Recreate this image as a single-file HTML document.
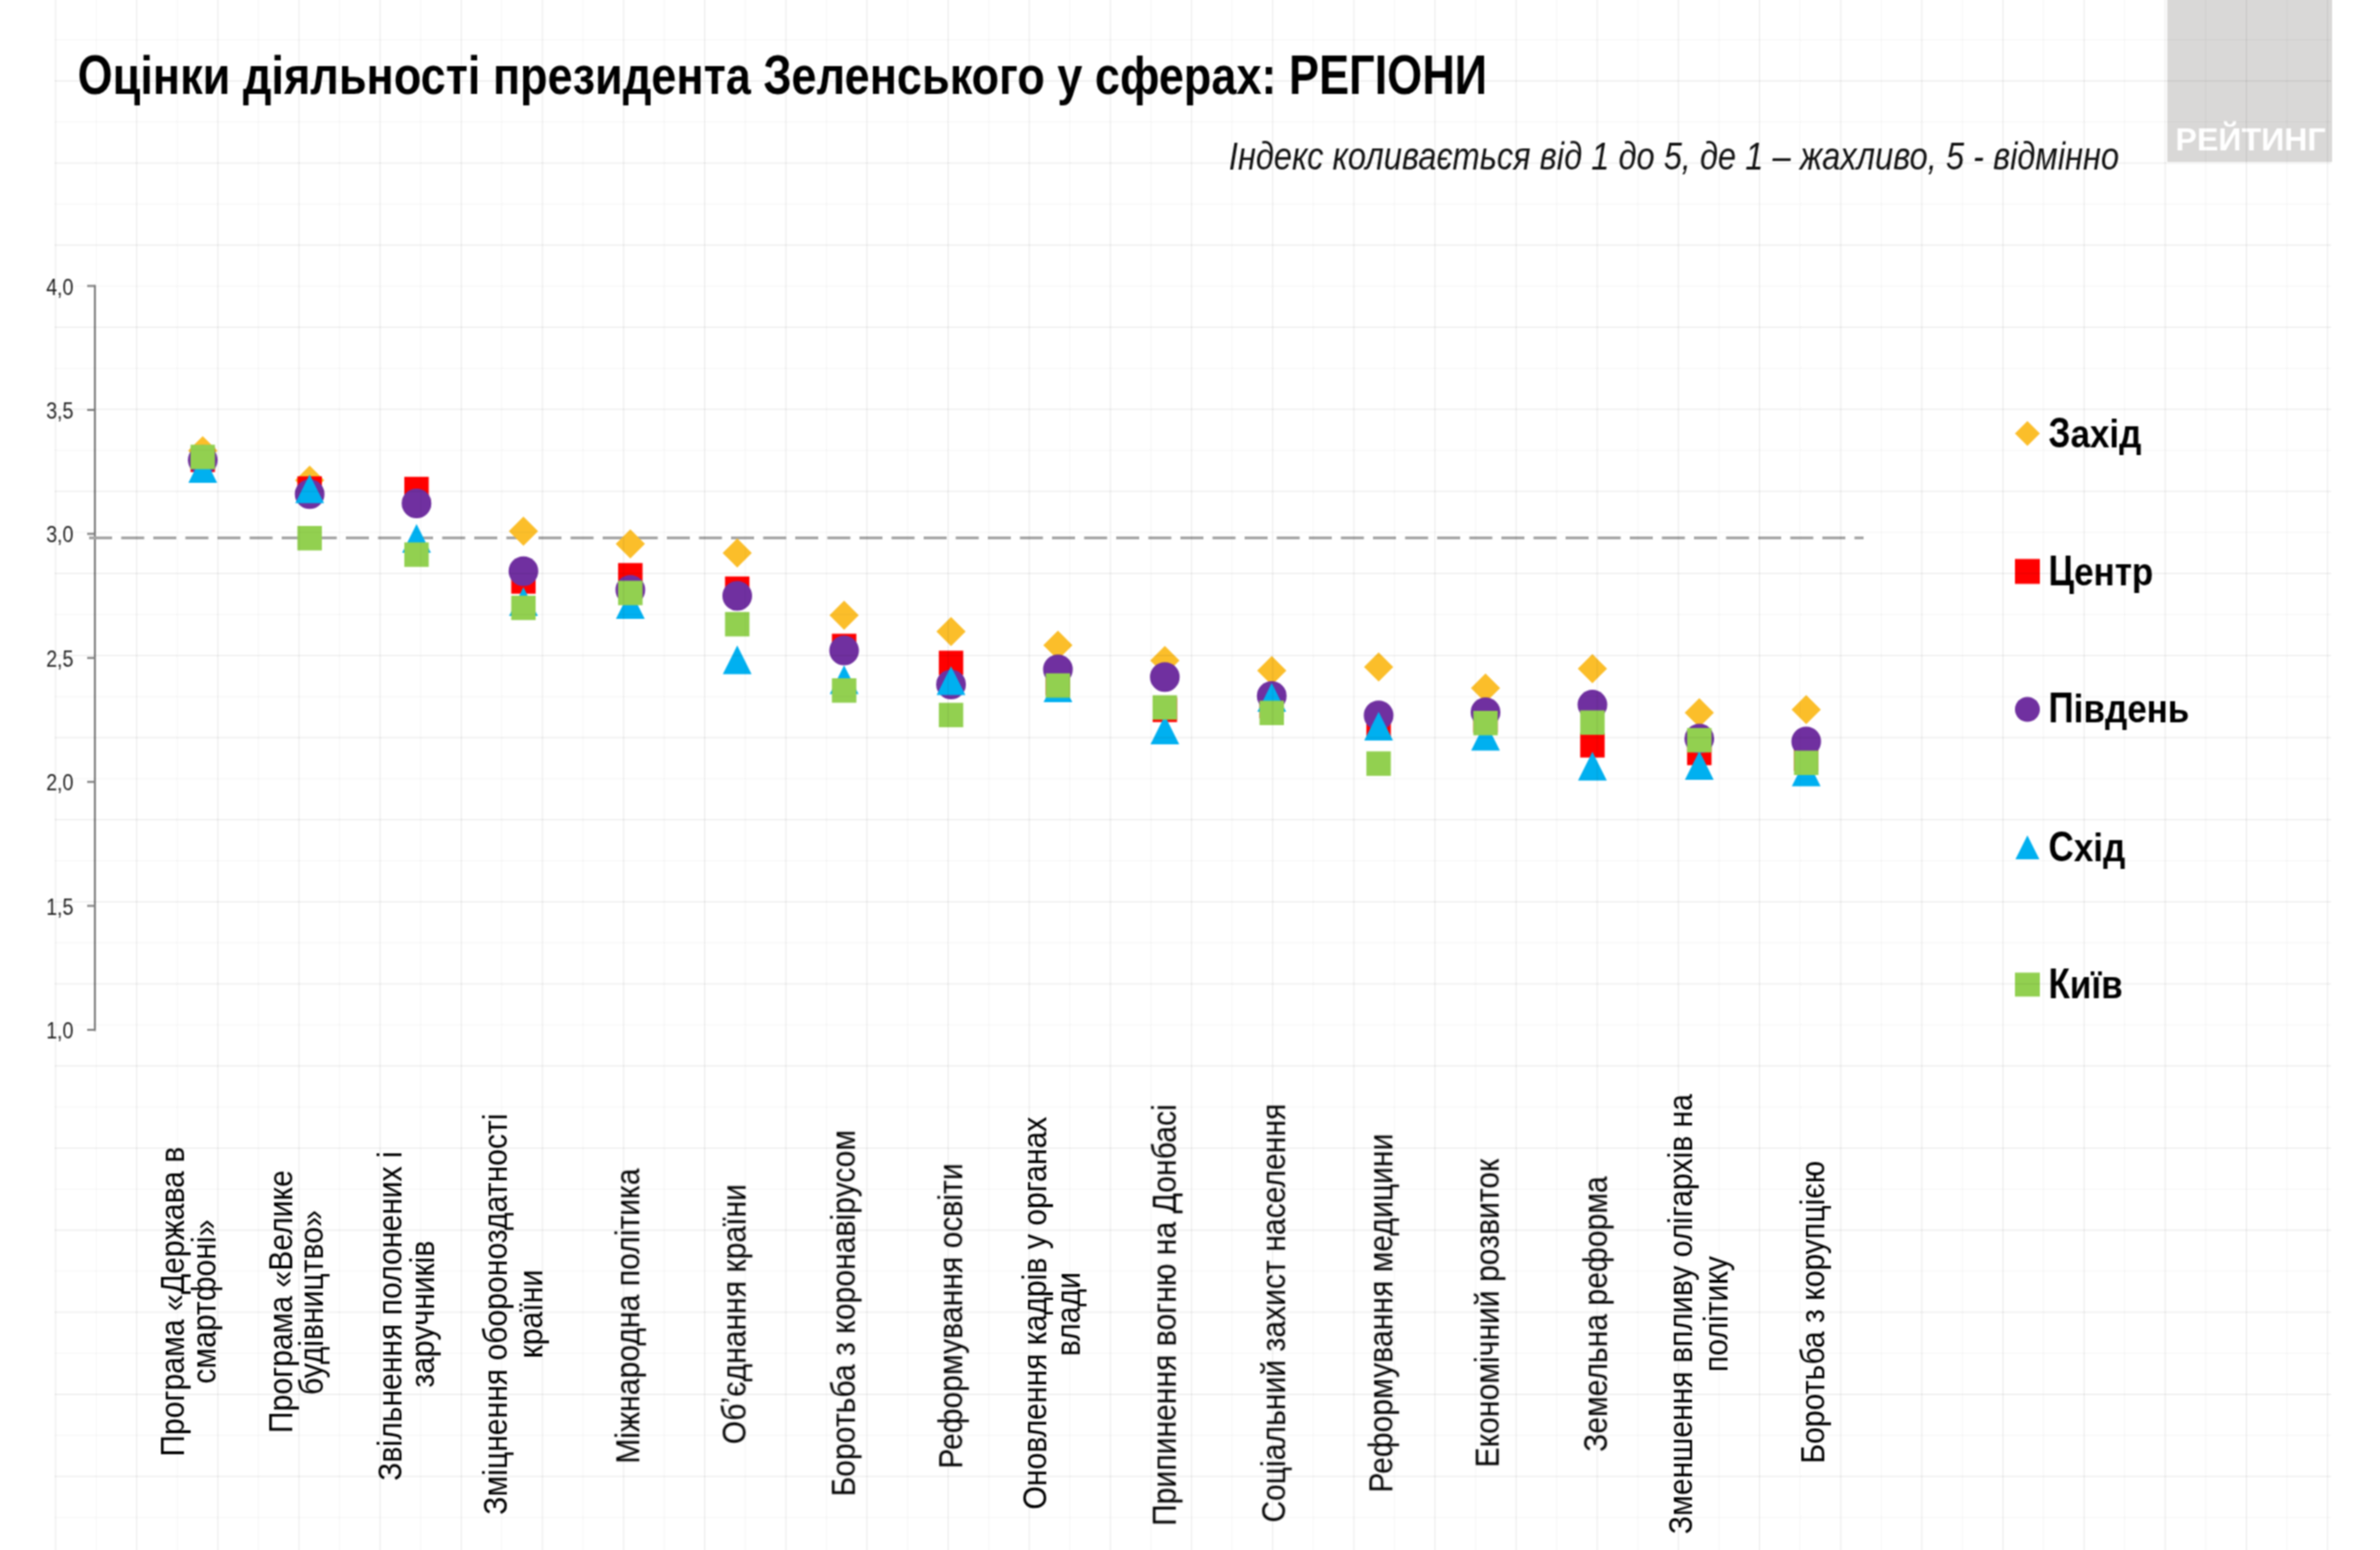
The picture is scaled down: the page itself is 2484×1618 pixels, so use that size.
<!DOCTYPE html>
<html><head><meta charset="utf-8"><style>
html,body{margin:0;padding:0;background:#fff;}
body{width:2484px;height:1618px;position:relative;overflow:hidden;font-family:'Liberation Sans', sans-serif;}
#wrap{position:absolute;left:0;top:0;width:2484px;height:1618px;overflow:hidden;filter:url(#bf);}
</style></head><body><svg width="0" height="0" style="position:absolute"><filter id="bf" x="0" y="0" width="100%" height="100%" color-interpolation-filters="sRGB"><feConvolveMatrix order="3" kernelMatrix="1 2 1 2 4 2 1 2 1" divisor="16" edgeMode="duplicate"/></filter></svg><div id="wrap">
<div style="position:absolute;left:2262px;top:0;width:172px;height:168.5px;background:#d9d8d7"></div>
<div style="position:absolute;left:2270.5px;top:128.96px;font:bold 33.6px/33.6px 'Liberation Sans', sans-serif;color:#fff;white-space:nowrap;transform:scaleX(1.0);transform-origin:left top">РЕЙТИНГ</div>
<svg width="2484" height="1618" viewBox="0 0 2484 1618" style="position:absolute;left:0;top:0"><line x1="99" y1="297.5" x2="99" y2="1076.2" stroke="#808080" stroke-width="2.1"/><line x1="91" y1="298.5" x2="99" y2="298.5" stroke="#808080" stroke-width="2.1"/><line x1="91" y1="427.9" x2="99" y2="427.9" stroke="#808080" stroke-width="2.1"/><line x1="91" y1="557.3" x2="99" y2="557.3" stroke="#808080" stroke-width="2.1"/><line x1="91" y1="686.8" x2="99" y2="686.8" stroke="#808080" stroke-width="2.1"/><line x1="91" y1="816.2" x2="99" y2="816.2" stroke="#808080" stroke-width="2.1"/><line x1="91" y1="945.6" x2="99" y2="945.6" stroke="#808080" stroke-width="2.1"/><line x1="91" y1="1075.0" x2="99" y2="1075.0" stroke="#808080" stroke-width="2.1"/><line x1="93" y1="561.4" x2="1945" y2="561.4" stroke="#a6a6a6" stroke-width="3" stroke-dasharray="24 9.5"/><path d="M211.60 455.25L226.85 470.50L211.60 485.75L196.35 470.50Z" fill="#FBBE2A"/><path d="M323.17 486.05L338.42 501.30L323.17 516.55L307.92 501.30Z" fill="#FBBE2A"/><path d="M434.74 506.75L449.99 522.00L434.74 537.25L419.49 522.00Z" fill="#FBBE2A"/><path d="M546.31 539.25L561.56 554.50L546.31 569.75L531.06 554.50Z" fill="#FBBE2A"/><path d="M657.88 552.45L673.13 567.70L657.88 582.95L642.63 567.70Z" fill="#FBBE2A"/><path d="M769.45 562.05L784.70 577.30L769.45 592.55L754.20 577.30Z" fill="#FBBE2A"/><path d="M881.02 627.05L896.27 642.30L881.02 657.55L865.77 642.30Z" fill="#FBBE2A"/><path d="M992.59 644.05L1007.84 659.30L992.59 674.55L977.34 659.30Z" fill="#FBBE2A"/><path d="M1104.16 658.25L1119.41 673.50L1104.16 688.75L1088.91 673.50Z" fill="#FBBE2A"/><path d="M1215.73 674.25L1230.98 689.50L1215.73 704.75L1200.48 689.50Z" fill="#FBBE2A"/><path d="M1327.30 684.75L1342.55 700.00L1327.30 715.25L1312.05 700.00Z" fill="#FBBE2A"/><path d="M1438.87 681.05L1454.12 696.30L1438.87 711.55L1423.62 696.30Z" fill="#FBBE2A"/><path d="M1550.44 702.95L1565.69 718.20L1550.44 733.45L1535.19 718.20Z" fill="#FBBE2A"/><path d="M1662.01 682.75L1677.26 698.00L1662.01 713.25L1646.76 698.00Z" fill="#FBBE2A"/><path d="M1773.58 728.75L1788.83 744.00L1773.58 759.25L1758.33 744.00Z" fill="#FBBE2A"/><path d="M1885.15 725.45L1900.40 740.70L1885.15 755.95L1869.90 740.70Z" fill="#FBBE2A"/><rect x="198.85" y="467.25" width="25.50" height="25.50" fill="#FF0000"/><rect x="310.42" y="497.25" width="25.50" height="25.50" fill="#FF0000"/><rect x="421.99" y="497.75" width="25.50" height="25.50" fill="#FF0000"/><rect x="533.56" y="594.25" width="25.50" height="25.50" fill="#FF0000"/><rect x="645.13" y="587.75" width="25.50" height="25.50" fill="#FF0000"/><rect x="756.70" y="601.75" width="25.50" height="25.50" fill="#FF0000"/><rect x="868.27" y="661.55" width="25.50" height="25.50" fill="#FF0000"/><rect x="979.84" y="679.25" width="25.50" height="25.50" fill="#FF0000"/><rect x="1091.41" y="700.25" width="25.50" height="25.50" fill="#FF0000"/><rect x="1202.98" y="728.25" width="25.50" height="25.50" fill="#FF0000"/><rect x="1314.55" y="724.25" width="25.50" height="25.50" fill="#FF0000"/><rect x="1426.12" y="747.25" width="25.50" height="25.50" fill="#FF0000"/><rect x="1537.69" y="739.25" width="25.50" height="25.50" fill="#FF0000"/><rect x="1649.26" y="765.25" width="25.50" height="25.50" fill="#FF0000"/><rect x="1760.83" y="773.25" width="25.50" height="25.50" fill="#FF0000"/><rect x="1872.40" y="779.25" width="25.50" height="25.50" fill="#FF0000"/><circle cx="211.60" cy="480.30" r="15.50" fill="#7030A0"/><circle cx="323.17" cy="515.70" r="15.50" fill="#7030A0"/><circle cx="434.74" cy="525.50" r="15.50" fill="#7030A0"/><circle cx="546.31" cy="596.30" r="15.50" fill="#7030A0"/><circle cx="657.88" cy="615.80" r="15.50" fill="#7030A0"/><circle cx="769.45" cy="622.00" r="15.50" fill="#7030A0"/><circle cx="881.02" cy="679.10" r="15.50" fill="#7030A0"/><circle cx="992.59" cy="714.50" r="15.50" fill="#7030A0"/><circle cx="1104.16" cy="698.70" r="15.50" fill="#7030A0"/><circle cx="1215.73" cy="706.70" r="15.50" fill="#7030A0"/><circle cx="1327.30" cy="726.50" r="15.50" fill="#7030A0"/><circle cx="1438.87" cy="746.80" r="15.50" fill="#7030A0"/><circle cx="1550.44" cy="743.40" r="15.50" fill="#7030A0"/><circle cx="1662.01" cy="735.60" r="15.50" fill="#7030A0"/><circle cx="1773.58" cy="771.00" r="15.50" fill="#7030A0"/><circle cx="1885.15" cy="774.00" r="15.50" fill="#7030A0"/><path d="M211.60 474.00L226.60 504.00L196.60 504.00Z" fill="#00B0F0"/><path d="M323.17 495.30L338.17 525.30L308.17 525.30Z" fill="#00B0F0"/><path d="M434.74 547.00L449.74 577.00L419.74 577.00Z" fill="#00B0F0"/><path d="M546.31 613.00L561.31 643.00L531.31 643.00Z" fill="#00B0F0"/><path d="M657.88 616.00L672.88 646.00L642.88 646.00Z" fill="#00B0F0"/><path d="M769.45 673.80L784.45 703.80L754.45 703.80Z" fill="#00B0F0"/><path d="M881.02 694.60L896.02 724.60L866.02 724.60Z" fill="#00B0F0"/><path d="M992.59 695.50L1007.59 725.50L977.59 725.50Z" fill="#00B0F0"/><path d="M1104.16 703.00L1119.16 733.00L1089.16 733.00Z" fill="#00B0F0"/><path d="M1215.73 747.00L1230.73 777.00L1200.73 777.00Z" fill="#00B0F0"/><path d="M1327.30 712.90L1342.30 742.90L1312.30 742.90Z" fill="#00B0F0"/><path d="M1438.87 743.00L1453.87 773.00L1423.87 773.00Z" fill="#00B0F0"/><path d="M1550.44 753.50L1565.44 783.50L1535.44 783.50Z" fill="#00B0F0"/><path d="M1662.01 784.70L1677.01 814.70L1647.01 814.70Z" fill="#00B0F0"/><path d="M1773.58 784.00L1788.58 814.00L1758.58 814.00Z" fill="#00B0F0"/><path d="M1885.15 790.70L1900.15 820.70L1870.15 820.70Z" fill="#00B0F0"/><rect x="198.85" y="464.25" width="25.50" height="25.50" fill="#92D050"/><rect x="310.42" y="549.05" width="25.50" height="25.50" fill="#92D050"/><rect x="421.99" y="566.25" width="25.50" height="25.50" fill="#92D050"/><rect x="533.56" y="621.75" width="25.50" height="25.50" fill="#92D050"/><rect x="645.13" y="606.25" width="25.50" height="25.50" fill="#92D050"/><rect x="756.70" y="638.85" width="25.50" height="25.50" fill="#92D050"/><rect x="868.27" y="708.05" width="25.50" height="25.50" fill="#92D050"/><rect x="979.84" y="733.65" width="25.50" height="25.50" fill="#92D050"/><rect x="1091.41" y="702.85" width="25.50" height="25.50" fill="#92D050"/><rect x="1202.98" y="725.75" width="25.50" height="25.50" fill="#92D050"/><rect x="1314.55" y="731.45" width="25.50" height="25.50" fill="#92D050"/><rect x="1426.12" y="784.35" width="25.50" height="25.50" fill="#92D050"/><rect x="1537.69" y="742.05" width="25.50" height="25.50" fill="#92D050"/><rect x="1649.26" y="741.55" width="25.50" height="25.50" fill="#92D050"/><rect x="1760.83" y="759.95" width="25.50" height="25.50" fill="#92D050"/><rect x="1872.40" y="783.55" width="25.50" height="25.50" fill="#92D050"/><path d="M2116.00 439.60L2129.00 452.60L2116.00 465.60L2103.00 452.60Z" fill="#FBBE2A"/><rect x="2103.00" y="583.50" width="26.00" height="26.00" fill="#FF0000"/><circle cx="2116.00" cy="740.50" r="13.00" fill="#7030A0"/><path d="M2116.00 872.00L2128.50 897.00L2103.50 897.00Z" fill="#00B0F0"/><rect x="2103.00" y="1015.30" width="26.00" height="25.00" fill="#92D050"/></svg>
<div style="position:absolute;left:80.50px;top:51.94px;font:normal bold 55px/55px 'Liberation Sans', sans-serif;color:#000;white-space:nowrap;transform:scaleX(0.855);transform-origin:left top;"><span style="display:inline-block;transform:scaleY(1.055);transform-origin:50% 46.6px">О</span>цінки діяльності президента <span style="display:inline-block;transform:scaleY(1.055);transform-origin:50% 46.6px">З</span>еленського у сферах: <span style="display:inline-block;transform:scaleY(1.055);transform-origin:50% 46.6px">РЕГІОНИ</span></div><div style="position:absolute;right:272.00px;top:143.14px;font:italic normal 40px/40px 'Liberation Sans', sans-serif;color:#111;white-space:nowrap;transform:scaleX(0.852);transform-origin:right top;">Індекс коливається від 1 до 5, де 1 – жахливо, 5 - відмінно</div><div style="position:absolute;right:2407.00px;top:288.51px;font:normal normal 23.5px/23.5px 'Liberation Sans', sans-serif;color:#1e1e1e;white-space:nowrap;transform:scaleX(0.873);transform-origin:right top;">4,0</div><div style="position:absolute;right:2407.00px;top:417.93px;font:normal normal 23.5px/23.5px 'Liberation Sans', sans-serif;color:#1e1e1e;white-space:nowrap;transform:scaleX(0.873);transform-origin:right top;">3,5</div><div style="position:absolute;right:2407.00px;top:547.35px;font:normal normal 23.5px/23.5px 'Liberation Sans', sans-serif;color:#1e1e1e;white-space:nowrap;transform:scaleX(0.873);transform-origin:right top;">3,0</div><div style="position:absolute;right:2407.00px;top:676.77px;font:normal normal 23.5px/23.5px 'Liberation Sans', sans-serif;color:#1e1e1e;white-space:nowrap;transform:scaleX(0.873);transform-origin:right top;">2,5</div><div style="position:absolute;right:2407.00px;top:806.19px;font:normal normal 23.5px/23.5px 'Liberation Sans', sans-serif;color:#1e1e1e;white-space:nowrap;transform:scaleX(0.873);transform-origin:right top;">2,0</div><div style="position:absolute;right:2407.00px;top:935.61px;font:normal normal 23.5px/23.5px 'Liberation Sans', sans-serif;color:#1e1e1e;white-space:nowrap;transform:scaleX(0.873);transform-origin:right top;">1,5</div><div style="position:absolute;right:2407.00px;top:1065.03px;font:normal normal 23.5px/23.5px 'Liberation Sans', sans-serif;color:#1e1e1e;white-space:nowrap;transform:scaleX(0.873);transform-origin:right top;">1,0</div><div style="position:absolute;left:2138.00px;top:432.52px;font:normal bold 40.5px/40.5px 'Liberation Sans', sans-serif;color:#000;white-space:nowrap;transform:scaleX(0.903);transform-origin:left top;"><span style="display:inline-block;transform:scaleY(1.09);transform-origin:50% 34.28px">З</span>ахід</div><div style="position:absolute;left:2138.00px;top:577.22px;font:normal bold 40.5px/40.5px 'Liberation Sans', sans-serif;color:#000;white-space:nowrap;transform:scaleX(0.903);transform-origin:left top;"><span style="display:inline-block;transform:scaleY(1.09);transform-origin:50% 34.28px">Ц</span>ентр</div><div style="position:absolute;left:2138.00px;top:720.12px;font:normal bold 40.5px/40.5px 'Liberation Sans', sans-serif;color:#000;white-space:nowrap;transform:scaleX(0.903);transform-origin:left top;"><span style="display:inline-block;transform:scaleY(1.09);transform-origin:50% 34.28px">П</span>івдень</div><div style="position:absolute;left:2138.00px;top:864.92px;font:normal bold 40.5px/40.5px 'Liberation Sans', sans-serif;color:#000;white-space:nowrap;transform:scaleX(0.903);transform-origin:left top;"><span style="display:inline-block;transform:scaleY(1.09);transform-origin:50% 34.28px">С</span>хід</div><div style="position:absolute;left:2138.00px;top:1007.82px;font:normal bold 40.5px/40.5px 'Liberation Sans', sans-serif;color:#000;white-space:nowrap;transform:scaleX(0.903);transform-origin:left top;"><span style="display:inline-block;transform:scaleY(1.09);transform-origin:50% 34.28px">К</span>иїв</div><div style="position:absolute;left:-168.60px;top:1340.85px;width:700px;height:35.5px;text-align:center;font:35.5px/35.5px 'Liberation Sans', sans-serif;color:#000;white-space:nowrap;transform:rotate(-90deg) scaleX(0.886);transform-origin:50% 50%">Програма «Держава в</div><div style="position:absolute;left:-136.50px;top:1341.45px;width:700px;height:35.5px;text-align:center;font:35.5px/35.5px 'Liberation Sans', sans-serif;color:#000;white-space:nowrap;transform:rotate(-90deg) scaleX(0.886);transform-origin:50% 50%">смартфоні»</div><div style="position:absolute;left:-55.80px;top:1340.95px;width:700px;height:35.5px;text-align:center;font:35.5px/35.5px 'Liberation Sans', sans-serif;color:#000;white-space:nowrap;transform:rotate(-90deg) scaleX(0.886);transform-origin:50% 50%">Програма «Велике</div><div style="position:absolute;left:-23.80px;top:1341.75px;width:700px;height:35.5px;text-align:center;font:35.5px/35.5px 'Liberation Sans', sans-serif;color:#000;white-space:nowrap;transform:rotate(-90deg) scaleX(0.886);transform-origin:50% 50%">будівництво»</div><div style="position:absolute;left:57.50px;top:1356.25px;width:700px;height:35.5px;text-align:center;font:35.5px/35.5px 'Liberation Sans', sans-serif;color:#000;white-space:nowrap;transform:rotate(-90deg) scaleX(0.886);transform-origin:50% 50%">Звільнення полонених і</div><div style="position:absolute;left:91.60px;top:1354.25px;width:700px;height:35.5px;text-align:center;font:35.5px/35.5px 'Liberation Sans', sans-serif;color:#000;white-space:nowrap;transform:rotate(-90deg) scaleX(0.886);transform-origin:50% 50%">заручників</div><div style="position:absolute;left:167.90px;top:1354.25px;width:700px;height:35.5px;text-align:center;font:35.5px/35.5px 'Liberation Sans', sans-serif;color:#000;white-space:nowrap;transform:rotate(-90deg) scaleX(0.886);transform-origin:50% 50%">Зміцнення обороноздатності</div><div style="position:absolute;left:204.70px;top:1354.25px;width:700px;height:35.5px;text-align:center;font:35.5px/35.5px 'Liberation Sans', sans-serif;color:#000;white-space:nowrap;transform:rotate(-90deg) scaleX(0.886);transform-origin:50% 50%">країни</div><div style="position:absolute;left:306.00px;top:1356.15px;width:700px;height:35.5px;text-align:center;font:35.5px/35.5px 'Liberation Sans', sans-serif;color:#000;white-space:nowrap;transform:rotate(-90deg) scaleX(0.886);transform-origin:50% 50%">Міжнародна політика</div><div style="position:absolute;left:416.70px;top:1354.25px;width:700px;height:35.5px;text-align:center;font:35.5px/35.5px 'Liberation Sans', sans-serif;color:#000;white-space:nowrap;transform:rotate(-90deg) scaleX(0.886);transform-origin:50% 50%">Обʼєднання країни</div><div style="position:absolute;left:530.70px;top:1353.35px;width:700px;height:35.5px;text-align:center;font:35.5px/35.5px 'Liberation Sans', sans-serif;color:#000;white-space:nowrap;transform:rotate(-90deg) scaleX(0.886);transform-origin:50% 50%">Боротьба з коронавірусом</div><div style="position:absolute;left:643.00px;top:1355.65px;width:700px;height:35.5px;text-align:center;font:35.5px/35.5px 'Liberation Sans', sans-serif;color:#000;white-space:nowrap;transform:rotate(-90deg) scaleX(0.886);transform-origin:50% 50%">Реформування освіти</div><div style="position:absolute;left:731.00px;top:1353.45px;width:700px;height:35.5px;text-align:center;font:35.5px/35.5px 'Liberation Sans', sans-serif;color:#000;white-space:nowrap;transform:rotate(-90deg) scaleX(0.886);transform-origin:50% 50%">Оновлення кадрів у органах</div><div style="position:absolute;left:765.80px;top:1354.45px;width:700px;height:35.5px;text-align:center;font:35.5px/35.5px 'Liberation Sans', sans-serif;color:#000;white-space:nowrap;transform:rotate(-90deg) scaleX(0.886);transform-origin:50% 50%">влади</div><div style="position:absolute;left:865.90px;top:1354.85px;width:700px;height:35.5px;text-align:center;font:35.5px/35.5px 'Liberation Sans', sans-serif;color:#000;white-space:nowrap;transform:rotate(-90deg) scaleX(0.886);transform-origin:50% 50%">Припинення вогню на Донбасі</div><div style="position:absolute;left:979.90px;top:1353.35px;width:700px;height:35.5px;text-align:center;font:35.5px/35.5px 'Liberation Sans', sans-serif;color:#000;white-space:nowrap;transform:rotate(-90deg) scaleX(0.886);transform-origin:50% 50%">Соціальний захист населення</div><div style="position:absolute;left:1092.10px;top:1353.35px;width:700px;height:35.5px;text-align:center;font:35.5px/35.5px 'Liberation Sans', sans-serif;color:#000;white-space:nowrap;transform:rotate(-90deg) scaleX(0.886);transform-origin:50% 50%">Реформування медицини</div><div style="position:absolute;left:1202.70px;top:1352.65px;width:700px;height:35.5px;text-align:center;font:35.5px/35.5px 'Liberation Sans', sans-serif;color:#000;white-space:nowrap;transform:rotate(-90deg) scaleX(0.886);transform-origin:50% 50%">Економічний розвиток</div><div style="position:absolute;left:1316.20px;top:1354.45px;width:700px;height:35.5px;text-align:center;font:35.5px/35.5px 'Liberation Sans', sans-serif;color:#000;white-space:nowrap;transform:rotate(-90deg) scaleX(0.886);transform-origin:50% 50%">Земельна реформа</div><div style="position:absolute;left:1404.70px;top:1353.65px;width:700px;height:35.5px;text-align:center;font:35.5px/35.5px 'Liberation Sans', sans-serif;color:#000;white-space:nowrap;transform:rotate(-90deg) scaleX(0.886);transform-origin:50% 50%">Зменшення впливу олігархів на</div><div style="position:absolute;left:1441.80px;top:1354.25px;width:700px;height:35.5px;text-align:center;font:35.5px/35.5px 'Liberation Sans', sans-serif;color:#000;white-space:nowrap;transform:rotate(-90deg) scaleX(0.886);transform-origin:50% 50%">політику</div><div style="position:absolute;left:1542.90px;top:1352.05px;width:700px;height:35.5px;text-align:center;font:35.5px/35.5px 'Liberation Sans', sans-serif;color:#000;white-space:nowrap;transform:rotate(-90deg) scaleX(0.886);transform-origin:50% 50%">Боротьба з корупцією</div>
<div style="position:absolute;left:57px;top:0;width:2376px;height:1618px;background-image:linear-gradient(to right, rgba(0,0,0,0.085) 1px, transparent 1px),linear-gradient(to right, rgba(0,0,0,0.035) 1px, transparent 1px),linear-gradient(to bottom, rgba(0,0,0,0.085) 1px, transparent 1px),linear-gradient(to bottom, rgba(0,0,0,0.035) 1px, transparent 1px);background-size:84.7px 1700px, 84.7px 1700px, 2400px 85.7px, 2400px 85.7px;background-position:0.5px 0px, 42.85px 0px, 0px 84px, 0px 41.15px"></div>
</div></body></html>
